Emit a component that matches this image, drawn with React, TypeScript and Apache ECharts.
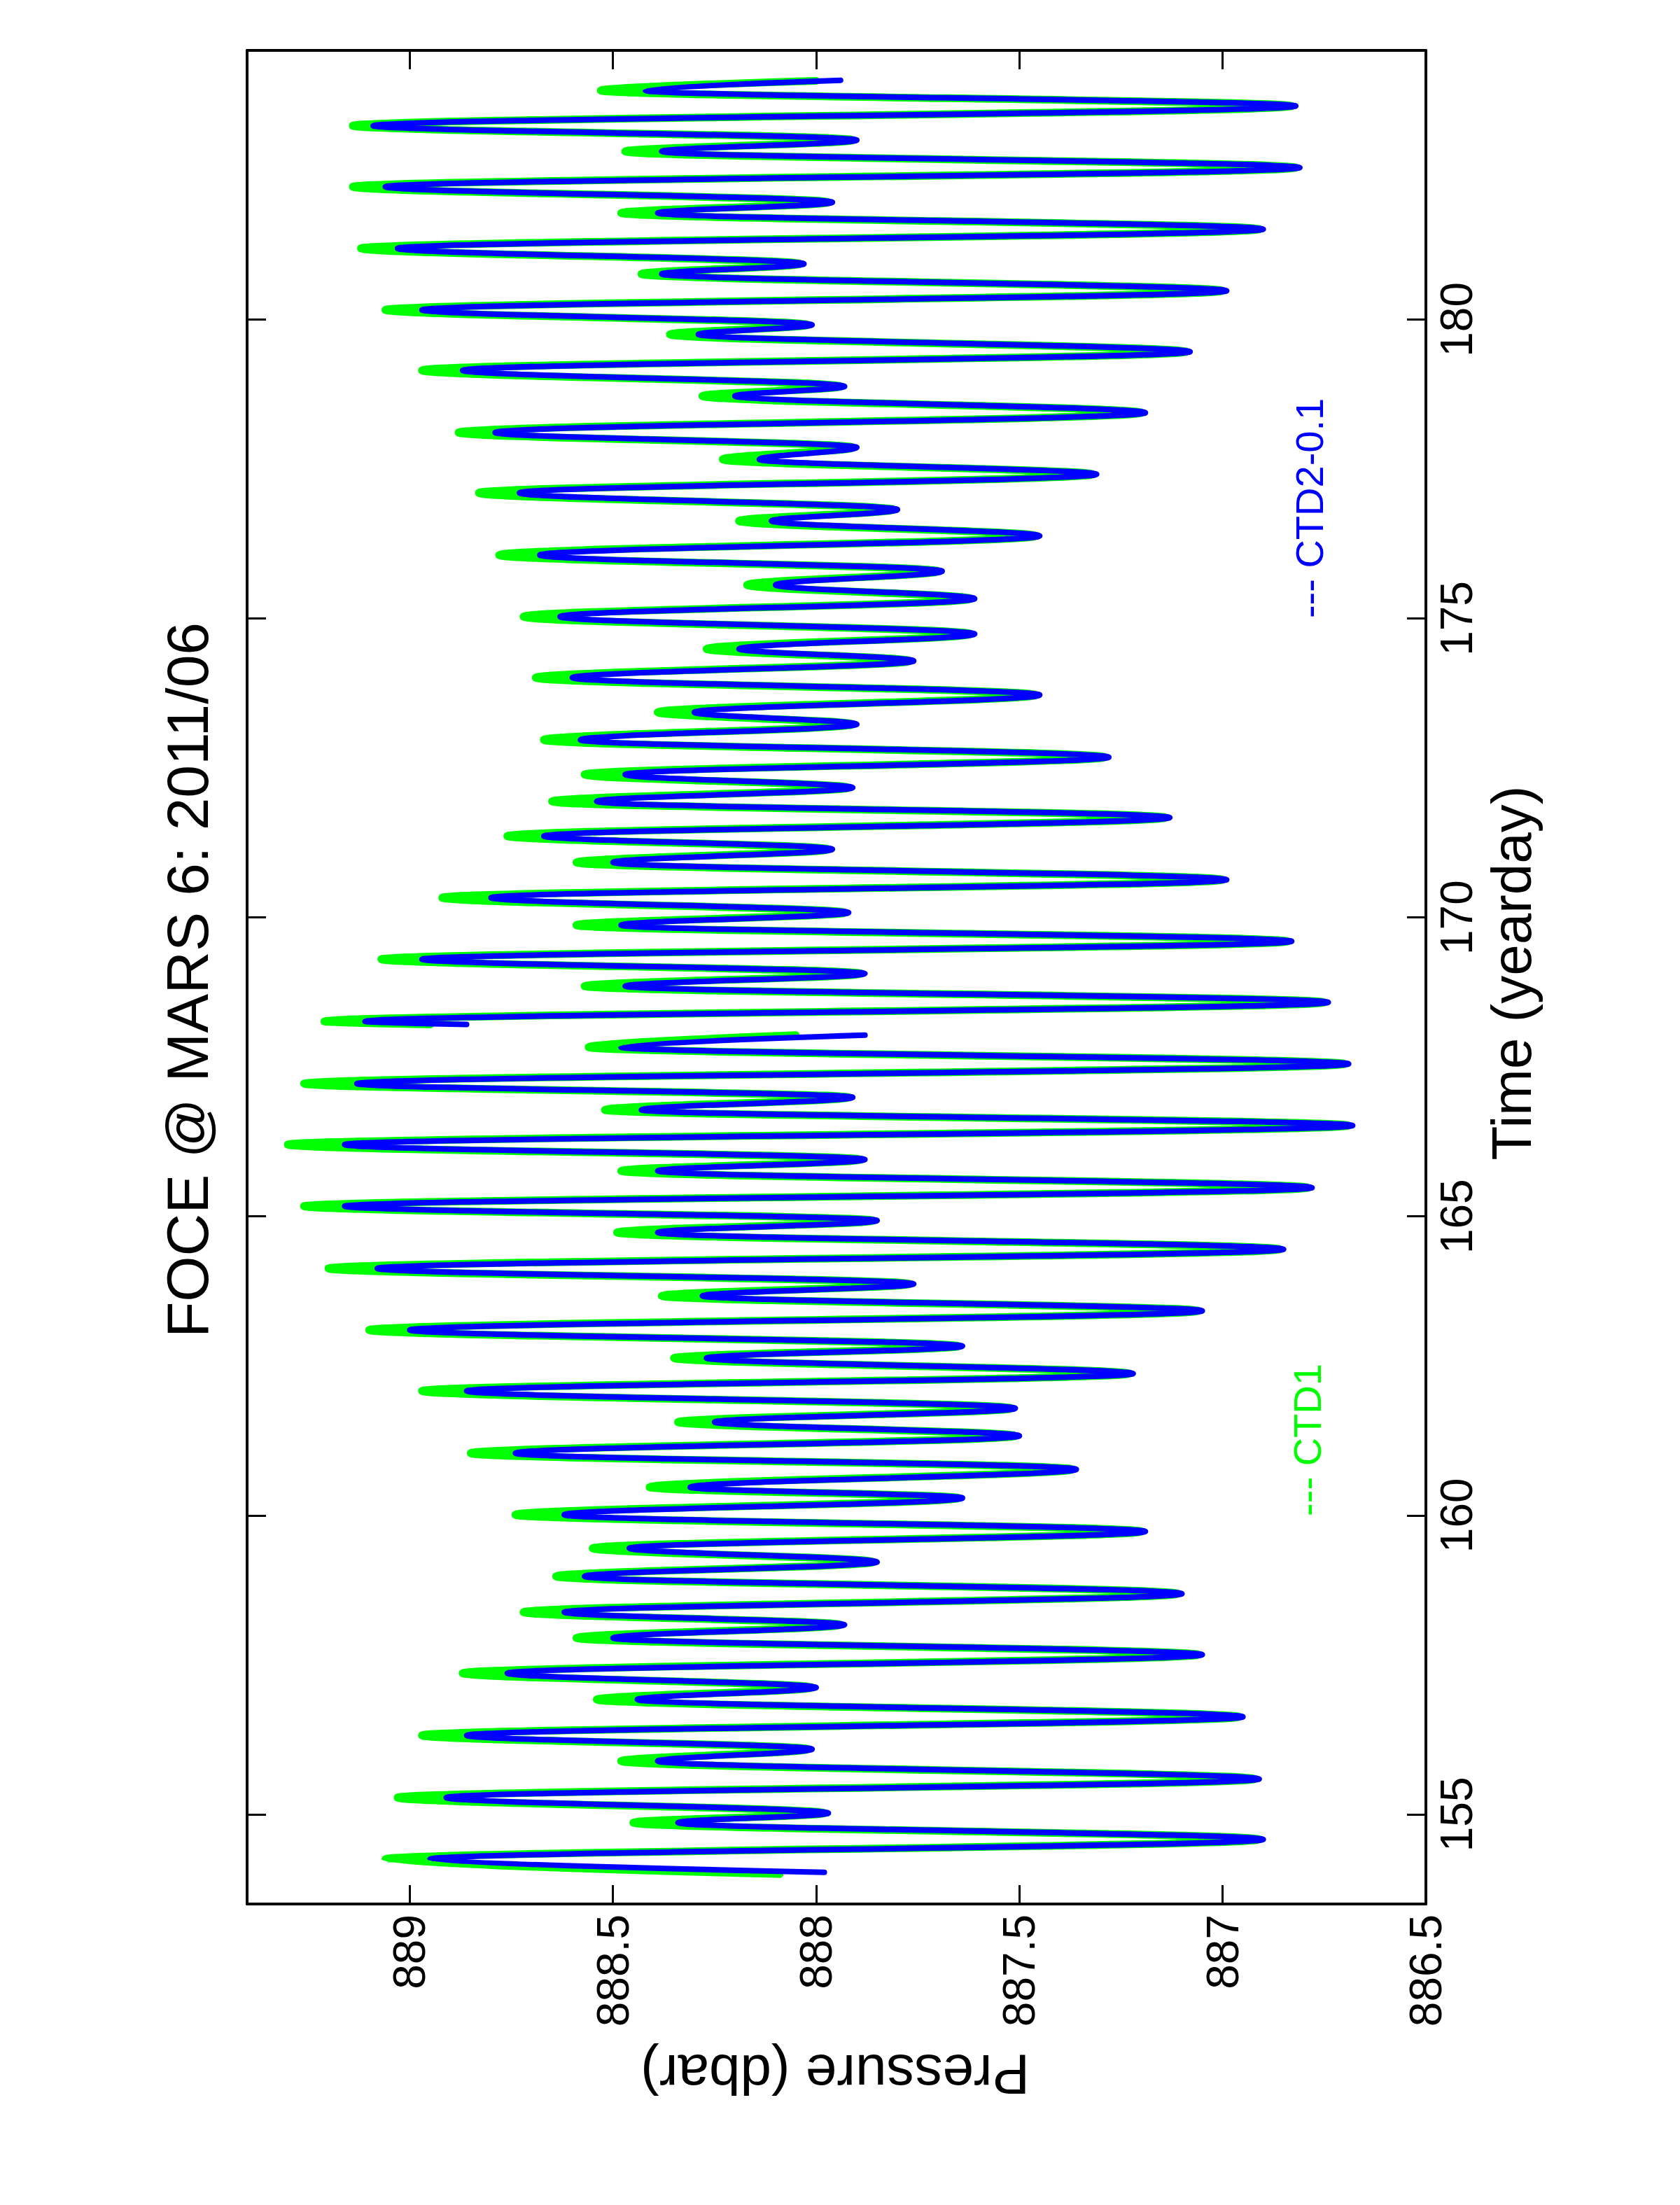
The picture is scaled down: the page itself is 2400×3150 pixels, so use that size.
import React, { useEffect, useRef } from 'react';
import * as echarts from 'echarts';

// Tick values
const timeTicks = [155, 160, 165, 170, 175, 180];
const pressureTicks = [886.5, 887, 887.5, 888, 888.5, 889];

// Tidal extremes (yearday), null marks the data gap
const blueTime = [
  154.03, 154.25, 154.58, 154.86, 155.02, 155.28, 155.59, 155.89, 156.09, 156.32,
  156.63, 156.92, 157.12, 157.36, 157.67, 157.95, 158.17, 158.38, 158.69, 158.98,
  159.22, 159.45, 159.73, 160.01, 160.29, 160.47, 160.77, 161.04, 161.33, 161.56,
  161.79, 162.08, 162.37, 162.63, 162.83, 163.10, 163.42, 163.67, 163.87, 164.13,
  164.45, 164.73, 164.93, 165.17, 165.48, 165.76, 165.95, 166.20, 166.52, 166.78,
  166.99, 167.22, 167.55, 167.83, 168.03, null,
  168.21, 168.26, 168.58, 168.85, 169.06, 169.30, 169.60, 169.87, 170.08, 170.33,
  170.63, 170.92, 171.14, 171.36, 171.67, 171.94, 172.17, 172.39, 172.68, 172.97,
  173.23, 173.43, 173.72, 174.01, 174.29, 174.49, 174.74, 175.03, 175.33, 175.56,
  175.79, 176.06, 176.38, 176.63, 176.82, 177.10, 177.41, 177.66, 177.86, 178.11,
  178.44, 178.72, 178.88, 179.15, 179.46, 179.75, 179.91, 180.16, 180.48, 180.76,
  180.93, 181.19, 181.51, 181.78, 181.96, 182.22, 182.54, 182.81, 183.00, 183.24,
  183.57, 183.83, 184.00,
];

// CTD2 - 0.1 pressure (dbar)
const bluePressure = [
  887.98, 888.95, 886.90, 888.34, 887.97, 888.91, 886.91, 888.39, 888.01, 888.86,
  886.95, 888.44, 888.00, 888.76, 887.05, 888.50, 887.93, 888.62, 887.10, 888.57,
  887.85, 888.46, 887.19, 888.62, 887.64, 888.31, 887.36, 888.74, 887.50, 888.25,
  887.51, 888.86, 887.22, 888.27, 887.64, 889.00, 887.05, 888.28, 887.76, 889.08,
  886.85, 888.39, 887.85, 889.16, 886.78, 888.39, 887.88, 889.16, 886.68, 888.43,
  887.91, 889.13, 886.69, 888.48, 887.88, null,
  888.86, 889.11, 886.74, 888.47, 887.88, 888.97, 886.83, 888.48, 887.92, 888.80,
  886.99, 888.50, 887.96, 888.67, 887.13, 888.54, 887.91, 888.47, 887.28, 888.58,
  887.90, 888.30, 887.45, 888.60, 887.76, 888.19, 887.61, 888.63, 887.61, 888.10,
  887.69, 888.68, 887.45, 888.11, 887.80, 888.73, 887.31, 888.14, 887.90, 888.79,
  887.19, 888.20, 887.93, 888.87, 887.08, 888.29, 888.01, 888.97, 886.99, 888.38,
  888.03, 889.03, 886.90, 888.39, 887.96, 889.06, 886.81, 888.38, 887.90, 889.09,
  886.82, 888.42, 887.94,
];

const greenTime = [
  154.00, 154.25, 154.58, 154.86, 155.02, 155.28, 155.59, 155.89, 156.09, 156.32,
  156.63, 156.92, 157.12, 157.36, 157.67, 157.95, 158.17, 158.38, 158.69, 158.98,
  159.22, 159.45, 159.73, 160.01, 160.29, 160.47, 160.77, 161.04, 161.33, 161.56,
  161.79, 162.08, 162.37, 162.63, 162.83, 163.10, 163.42, 163.67, 163.87, 164.13,
  164.45, 164.73, 164.93, 165.17, 165.48, 165.76, 165.95, 166.20, 166.52, 166.78,
  166.99, 167.22, 167.55, 167.83, 168.03, null,
  168.21, 168.26, 168.58, 168.85, 169.06, 169.30, 169.60, 169.87, 170.08, 170.33,
  170.63, 170.92, 171.14, 171.36, 171.67, 171.94, 172.17, 172.39, 172.68, 172.97,
  173.23, 173.43, 173.72, 174.01, 174.29, 174.49, 174.74, 175.03, 175.33, 175.56,
  175.79, 176.06, 176.38, 176.63, 176.82, 177.10, 177.41, 177.66, 177.86, 178.11,
  178.44, 178.72, 178.88, 179.15, 179.46, 179.75, 179.91, 180.16, 180.48, 180.76,
  180.93, 181.19, 181.51, 181.78, 181.96, 182.22, 182.54, 182.81, 183.00, 183.24,
  183.57, 183.83, 183.99,
];

// CTD1 pressure (dbar)
const greenPressure = [
  888.09, 889.06, 886.91, 888.45, 887.98, 889.03, 886.92, 888.48, 888.02, 888.97,
  886.96, 888.54, 888.01, 888.87, 887.06, 888.59, 887.94, 888.72, 887.11, 888.64,
  887.86, 888.55, 887.20, 888.74, 887.65, 888.41, 887.37, 888.85, 887.51, 888.34,
  887.52, 888.97, 887.23, 888.35, 887.65, 889.10, 887.06, 888.38, 887.77, 889.20,
  886.86, 888.49, 887.86, 889.26, 886.79, 888.48, 887.89, 889.30, 886.69, 888.52,
  887.92, 889.26, 886.70, 888.56, 888.05, null,
  888.95, 889.21, 886.75, 888.57, 887.89, 889.07, 886.84, 888.59, 887.93, 888.92,
  887.00, 888.59, 887.97, 888.76, 887.14, 888.65, 887.92, 888.57, 887.29, 888.67,
  887.91, 888.39, 887.46, 888.69, 887.77, 888.27, 887.62, 888.72, 887.62, 888.17,
  887.70, 888.78, 887.46, 888.19, 887.81, 888.83, 887.32, 888.23, 887.91, 888.88,
  887.20, 888.28, 887.94, 888.97, 887.09, 888.36, 888.02, 889.06, 887.00, 888.43,
  888.04, 889.12, 886.91, 888.48, 887.97, 889.14, 886.82, 888.47, 887.91, 889.14,
  886.83, 888.53, 888.00,
];

const FONT = "'Liberation Sans', Arial, Helvetica, sans-serif";

function pairs(times: (number | null)[], pressures: (number | null)[]) {
  return times.map((t, i) => {
    const p = pressures[i];
    if (t === null || p === null) return ['-', '-'];
    return [p, t];
  });
}

function mkText(text: string, x: number, y: number, rotation: number, size: number, color: string) {
  return {
    type: 'text',
    x,
    y,
    rotation,
    silent: true,
    style: {
      text,
      fill: color,
      fontSize: size,
      fontFamily: FONT,
      font: `${size}px ${FONT}`,
      align: 'center',
      verticalAlign: 'middle',
      textAlign: 'center',
      textVerticalAlign: 'middle',
    },
  };
}

export default function App() {
  const ref = useRef<HTMLDivElement>(null);

  useEffect(() => {
    document.body.style.margin = '0';
    document.body.style.overflow = 'hidden';
    const chart = echarts.init(ref.current as HTMLDivElement, null, { renderer: 'svg' });

    const axisLine = { show: true, onZero: false, lineStyle: { color: '#000', width: 4 } };
    const tickStyle = { color: '#000', width: 3 };

    const option: any = {
      animation: false,
      backgroundColor: '#ffffff',
      grid: { left: 353, right: 363, top: 72, bottom: 430, containLabel: false },
      xAxis: [
        {
          type: 'value',
          position: 'bottom',
          inverse: true,
          min: 886.5,
          max: 889.4,
          axisLine,
          axisTick: { show: true, inside: true, length: 27, lineStyle: tickStyle, customValues: pressureTicks },
          axisLabel: {
            show: true,
            rotate: 90,
            margin: 15,
            fontSize: 64,
            fontFamily: FONT,
            color: '#000',
            customValues: pressureTicks,
            formatter: (v: number) => String(v),
          },
          splitLine: { show: false },
        },
        {
          type: 'value',
          position: 'top',
          inverse: true,
          min: 886.5,
          max: 889.4,
          axisLine,
          axisTick: { show: true, inside: true, length: 27, lineStyle: tickStyle, customValues: pressureTicks },
          axisLabel: { show: false },
          splitLine: { show: false },
        },
      ],
      yAxis: [
        {
          type: 'value',
          position: 'right',
          min: 153.5,
          max: 184.5,
          axisLine,
          axisTick: { show: true, inside: true, length: 27, lineStyle: tickStyle, customValues: timeTicks },
          axisLabel: {
            show: true,
            rotate: 90,
            margin: 12,
            fontSize: 64,
            fontFamily: FONT,
            color: '#000',
            customValues: timeTicks,
            formatter: (v: number) => String(v),
          },
          splitLine: { show: false },
        },
        {
          type: 'value',
          position: 'left',
          min: 153.5,
          max: 184.5,
          axisLine,
          axisTick: { show: true, inside: true, length: 27, lineStyle: tickStyle, customValues: timeTicks },
          axisLabel: { show: false },
          splitLine: { show: false },
        },
      ],
      series: [
        {
          type: 'line',
          name: 'CTD1',
          xAxisIndex: 0,
          yAxisIndex: 0,
          data: pairs(greenTime, greenPressure),
          showSymbol: false,
          symbol: 'none',
          smooth: 0.36,
          smoothMonotone: 'y',
          connectNulls: false,
          lineStyle: { color: '#00ff00', width: 11, join: 'round', cap: 'round' },
          z: 2,
          silent: true,
        },
        {
          type: 'line',
          name: 'CTD2-0.1',
          xAxisIndex: 0,
          yAxisIndex: 0,
          data: pairs(blueTime, bluePressure),
          showSymbol: false,
          symbol: 'none',
          smooth: 0.36,
          smoothMonotone: 'y',
          connectNulls: false,
          lineStyle: { color: '#0000ff', width: 8, join: 'round', cap: 'round' },
          z: 3,
          silent: true,
        },
      ],
      graphic: [
        mkText('FOCE @ MARS 6: 2011/06', 268, 1400, Math.PI / 2, 84, '#000'),
        mkText('Time (yearday)', 2159, 1390, Math.PI / 2, 80, '#000'),
        mkText('Pressure (dbar)', 1193, 2963, Math.PI, 80, '#000'),
        mkText('--- CTD1', 1867, 2057, Math.PI / 2, 56, '#00ff00'),
        mkText('--- CTD2-0.1', 1870, 726, Math.PI / 2, 56, '#0000ff'),
      ],
    };

    chart.setOption(option);
    return () => chart.dispose();
  }, []);

  return <div ref={ref} style={{ width: 2400, height: 3150, background: '#ffffff' }} />;
}
